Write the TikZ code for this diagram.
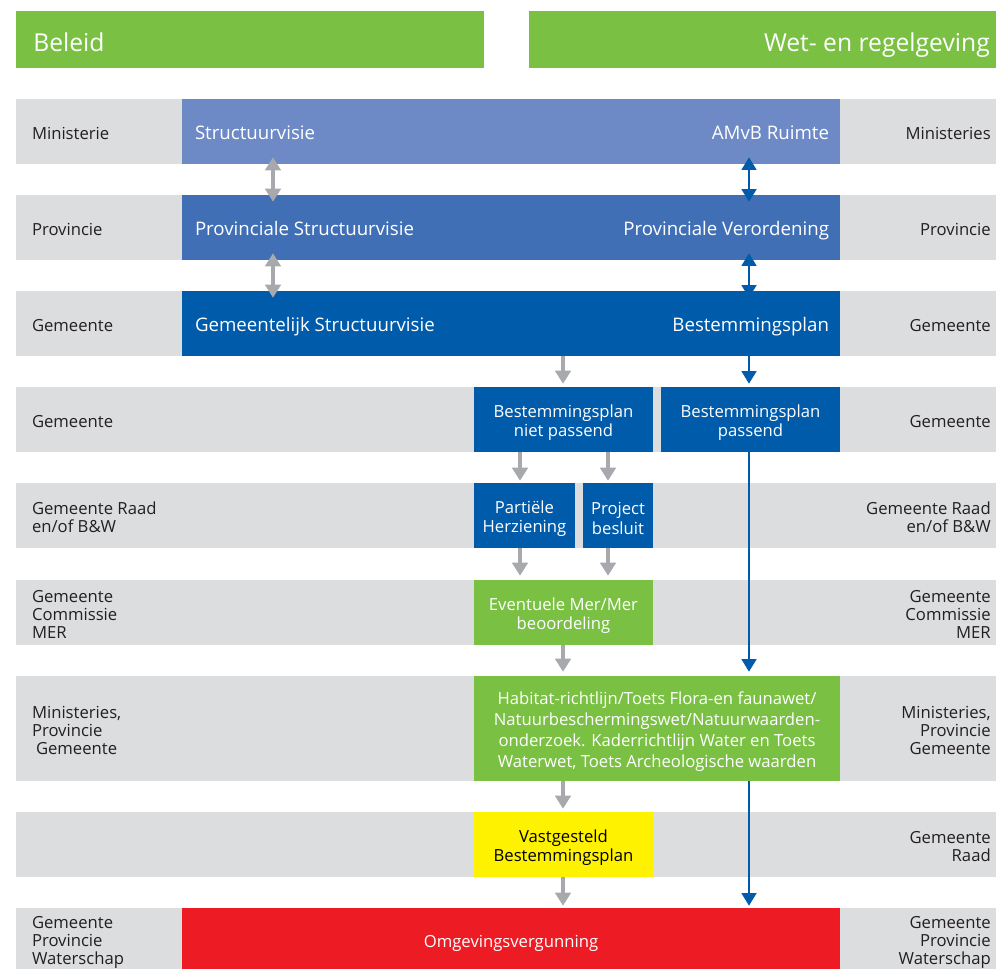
\documentclass[tikz,border=0pt]{standalone}
\usepackage{fontspec}
\setmainfont{Open Sans}
\usetikzlibrary{arrows.meta,fit,calc}
\definecolor{hdrgreen}{HTML}{7AC143}
\definecolor{bandgray}{HTML}{DCDDDF}
\definecolor{blueA}{HTML}{6D89C6}
\definecolor{blueB}{HTML}{416FB6}
\definecolor{blueC}{HTML}{005BAA}
\definecolor{geel}{HTML}{FFF200}
\definecolor{rood}{HTML}{ED1C24}
\definecolor{arrgray}{HTML}{A7A9AC}
\definecolor{ink}{HTML}{231F20}
\begin{document}
\begin{tikzpicture}[x=0.75pt,y=-0.75pt,
  bandbox/.style={inner sep=0pt, fill=bandgray},
  boxfill/.style={inner sep=0pt, fill=#1},
  boxtxt/.style={inner sep=0pt, text=white, align=center, yshift=-2.25pt,
     font=\fontsize{12.5}{14.5}\selectfont},
  bigtxt/.style={text=white, inner sep=0pt, font=\fontsize{14}{16}\selectfont},
  lbl/.style={text=ink, inner sep=0pt, yshift=-1.2pt, font=\fontsize{12.5}{13.5}\selectfont},
  hdr/.style={text=white, inner sep=0pt, font=\fontsize{18.5}{22}\selectfont},
  garr/.style={draw=arrgray, line width=2.5pt, -{Triangle[width=11.5pt,length=9.75pt]}},
  gdbl/.style={draw=arrgray, line width=2.5pt, {Triangle[width=11.5pt,length=9.75pt]}-{Triangle[width=11.5pt,length=9.75pt]}},
  barr/.style={draw=blueC, line width=2pt, -{Triangle[width=11pt,length=9.5pt]}},
  bdbl/.style={draw=blueC, line width=2pt, {Triangle[width=11pt,length=9.5pt]}-{Triangle[width=11pt,length=9.5pt]}}
]
\useasboundingbox (0,0) rectangle (996,968);
\clip (0,0) rectangle (996,968);

% headers
\node[fit={(16,11)(484,68)}, inner sep=0pt, fill=hdrgreen] (hleft) {};
\node[fit={(529,11)(1000,68)}, inner sep=0pt, fill=hdrgreen] (hright) {};
\node[hdr, anchor=base west] (hlt) at (33,51) {Beleid};
\node[hdr, anchor=base east] (hrt) at (990,51) {Wet- en regelgeving};

% bands
\foreach \t/\b [count=\i] in {99/164,195/260,291/356,387/452,483/548,580/645,676/781,812/877,908/973}
  \node[bandbox, fit={(16,\t)(1000,\b)}] (band\i) {};

% side labels left
\node[lbl, anchor=west, align=left] (l1) at ($(band1.west)+(16,0)$) {Ministerie};
\node[lbl, anchor=west, align=left] (l2) at ($(band2.west)+(16,0)$) {Provincie};
\node[lbl, anchor=west, align=left] (l3) at ($(band3.west)+(16,0)$) {Gemeente};
\node[lbl, anchor=west, align=left] (l4) at ($(band4.west)+(16,0)$) {Gemeente};
\node[lbl, anchor=west, align=left] (l5) at ($(band5.west)+(16,0)$) {Gemeente Raad\\en/of B\&W};
\node[lbl, anchor=west, align=left] (l6) at ($(band6.west)+(16,0)$) {Gemeente\\Commissie\\MER};
\node[lbl, anchor=west, align=left] (l7) at ($(band7.west)+(16,0)$) {Ministeries,\\Provincie\\\hspace{3pt}Gemeente};
\node[lbl, anchor=west, align=left] (l9) at ($(band9.west)+(16,0)$) {Gemeente\\Provincie\\Waterschap};

% side labels right
\coordinate (rx) at (991,0);
\node[lbl, anchor=east, align=right] (r1) at (band1.center -| rx) {Ministeries};
\node[lbl, anchor=east, align=right] (r2) at (band2.center -| rx) {Provincie};
\node[lbl, anchor=east, align=right] (r3) at (band3.center -| rx) {Gemeente};
\node[lbl, anchor=east, align=right] (r4) at (band4.center -| rx) {Gemeente};
\node[lbl, anchor=east, align=right] (r5) at (band5.center -| rx) {Gemeente Raad\\en/of B\&W};
\node[lbl, anchor=east, align=right] (r6) at (band6.center -| rx) {Gemeente\\Commissie\\MER};
\node[lbl, anchor=east, align=right] (r7) at (band7.center -| rx) {Ministeries,\\Provincie\\Gemeente};
\node[lbl, anchor=east, align=right] (r8) at (band8.center -| rx) {Gemeente\\Raad};
\node[lbl, anchor=east, align=right] (r9) at (band9.center -| rx) {Gemeente\\Provincie\\Waterschap};

% top wide boxes
\node[boxfill=blueA, fit={(182,99)(840,164)}] (rijk) {};
\node[boxfill=blueB, fit={(182,195)(840,260)}] (prov) {};
\node[boxfill=blueC, fit={(182,291)(840,356)}] (gem) {};
\node[bigtxt, anchor=base west] (t1l) at ($(rijk.west)+(13,8)$) {Structuurvisie};
\node[bigtxt, anchor=base east] (t1r) at ($(rijk.east)+(-11,8)$) {AMvB Ruimte};
\node[bigtxt, anchor=base west] (t2l) at ($(prov.west)+(13,8)$) {Provinciale Structuurvisie};
\node[bigtxt, anchor=base east] (t2r) at ($(prov.east)+(-11,8)$) {Provinciale Verordening};
\node[bigtxt, anchor=base west] (t3l) at ($(gem.west)+(13,8)$) {Gemeentelijk Structuurvisie};
\node[bigtxt, anchor=base east] (t3r) at ($(gem.east)+(-11,8)$) {Bestemmingsplan};

% process boxes
\node[boxfill=blueC, fit={(474,387)(653,452)}] (niet) {};
\node[boxtxt] at (niet.center) (niett) {Bestemmingsplan\\niet passend};
\node[boxfill=blueC, fit={(661,387)(840,452)}] (pas) {};
\node[boxtxt] at (pas.center) (past) {Bestemmingsplan\\passend};
\node[boxfill=blueC, fit={(474,483)(575,548)}] (part) {};
\node[boxtxt] at (part.center) (partt) {Partiële\\Herziening};
\node[boxfill=blueC, fit={(583,483)(653,548)}] (proj) {};
\node[boxtxt] at (proj.center) (projt) {Project\\besluit};
\node[boxfill=hdrgreen, fit={(474,580)(653,645)}] (mer) {};
\node[boxtxt] at (mer.center) (mert) {Eventuele Mer/Mer\\beoordeling};
\node[boxfill=hdrgreen, fit={(474,676)(840,781)}] (hab) {};
\node[boxtxt, font=\fontsize{12.5}{15.75}\selectfont] at (hab.center) (habt)
  {Habitat-richtlijn/Toets Flora-en faunawet/\\Natuurbeschermingswet/Natuurwaarden-\\onderzoek. Kaderrichtlijn Water en Toets\\Waterwet, Toets Archeologische waarden};
\node[boxfill=geel, fit={(474,812)(653,877)}] (vast) {};
\node[boxtxt, text=black] at (vast.center) (vastt) {Vastgesteld\\Bestemmingsplan};
\node[boxfill=rood, fit={(182,908)(840,973)}] (omg) {};
\node[boxtxt] at (omg.center) (omgt) {Omgevingsvergunning};

% column coordinates
\coordinate (cA) at (273,0);
\coordinate (cB) at (749,0);
\coordinate (cC) at (563,0);
\coordinate (cD) at (520,0);
\coordinate (cE) at (608,0);

% connectors
\draw[gdbl] ($(rijk.south -| cA)+(0,-7)$) -- ($(prov.north -| cA)+(0,7)$);
\draw[gdbl] ($(prov.south -| cA)+(0,-7)$) -- ($(gem.north -| cA)+(0,7)$);
\draw[bdbl] ($(rijk.south -| cB)+(0,-7)$) -- ($(prov.north -| cB)+(0,7)$);
\draw[bdbl] ($(prov.south -| cB)+(0,-7)$) -- ($(gem.north -| cB)+(0,7)$);

\draw[garr] (gem.south -| cC) -- ($(niet.north -| cC)+(0,-3)$);
\draw[barr] (gem.south -| cB) -- ($(pas.north -| cB)+(0,-3)$);
\draw[garr] (niet.south -| cD) -- ($(part.north -| cD)+(0,-2)$);
\draw[garr] (niet.south -| cE) -- ($(proj.north -| cE)+(0,-2)$);
\draw[garr] (part.south -| cD) -- ($(mer.north -| cD)+(0,-4)$);
\draw[garr] (proj.south -| cE) -- ($(mer.north -| cE)+(0,-4)$);
\draw[garr] (mer.south -| cC) -- ($(hab.north -| cC)+(0,-4)$);
\draw[barr] (pas.south -| cB) -- ($(hab.north -| cB)+(0,-4)$);
\draw[garr] (hab.south -| cC) -- ($(vast.north -| cC)+(0,-3)$);
\draw[garr] (vast.south -| cC) -- ($(omg.north -| cC)+(0,-2)$);
\draw[barr] (hab.south -| cB) -- ($(omg.north -| cB)+(0,-2)$);
\end{tikzpicture}
\end{document}
